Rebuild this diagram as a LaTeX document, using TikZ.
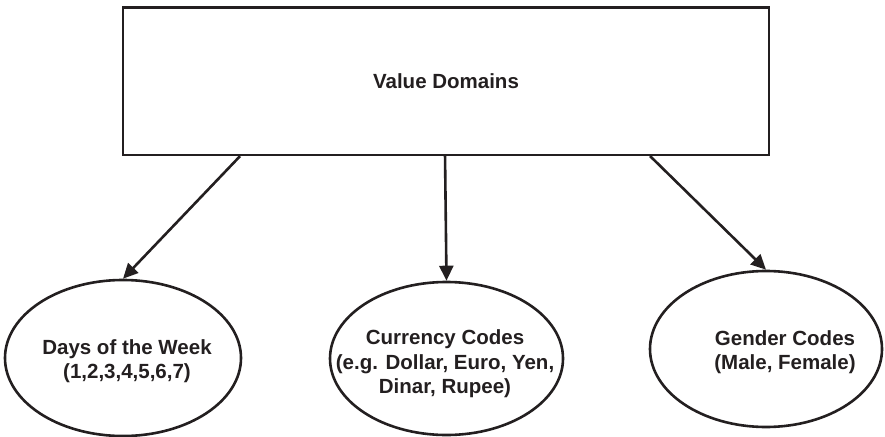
\documentclass[tikz,border=0pt]{standalone}
\usepackage{fontspec}
\setmainfont{Liberation Sans}
\usetikzlibrary{arrows.meta,calc,shapes.geometric}
\definecolor{ink}{HTML}{231F20}
\begin{document}
\begin{tikzpicture}[x=1pt,y=1pt,
  shapeline/.style={draw=ink, line width=2.6pt},
  boxnode/.style={shapeline, rectangle, inner sep=0pt},
  ellnode/.style={shapeline, ellipse, inner sep=0pt},
  txt/.style={text=ink, font=\fontsize{20.5}{24.5}\selectfont\bfseries, align=center, inner sep=0pt},
  arr/.style={draw=ink, line width=2.6pt, -{Triangle[length=15pt,width=14pt]}}]
\useasboundingbox (0,0) rectangle (885,-436);
\node[boxnode, minimum width=646pt, minimum height=147pt] (box) at (446,-81.3) {};
\node[txt] (title) at (446,-81) {Value Domains};
\node[ellnode, minimum width=236pt, minimum height=156pt] (e1) at (123,-358) {};
\node[ellnode, minimum width=233pt, minimum height=153pt] (e2) at (446.5,-358.5) {};
\node[ellnode, minimum width=232pt, minimum height=156pt] (e3) at (766,-349) {};
\node[txt] (t1) at (127,-361) {Days of the Week\\(1,2,3,4,5,6,7)};
\node[txt] (t2) at (445,-364) {Currency Codes\\(e.g. Dollar, Euro, Yen,\\Dinar, Rupee)};
\node[txt] (t3) at (785,-352) {Gender Codes\\(Male, Female)};
\coordinate (s1) at ($(box.south west)!0.1825!(box.south east)$);
\coordinate (s2) at ($(box.south west)!0.4985!(box.south east)$);
\coordinate (s3) at ($(box.south west)!0.8147!(box.south east)$);
\draw[arr] (s1) -- (e1.north);
\draw[arr] (s2) -- (e2.north);
\draw[arr] (s3) -- (e3.north);
\end{tikzpicture}
\end{document}
